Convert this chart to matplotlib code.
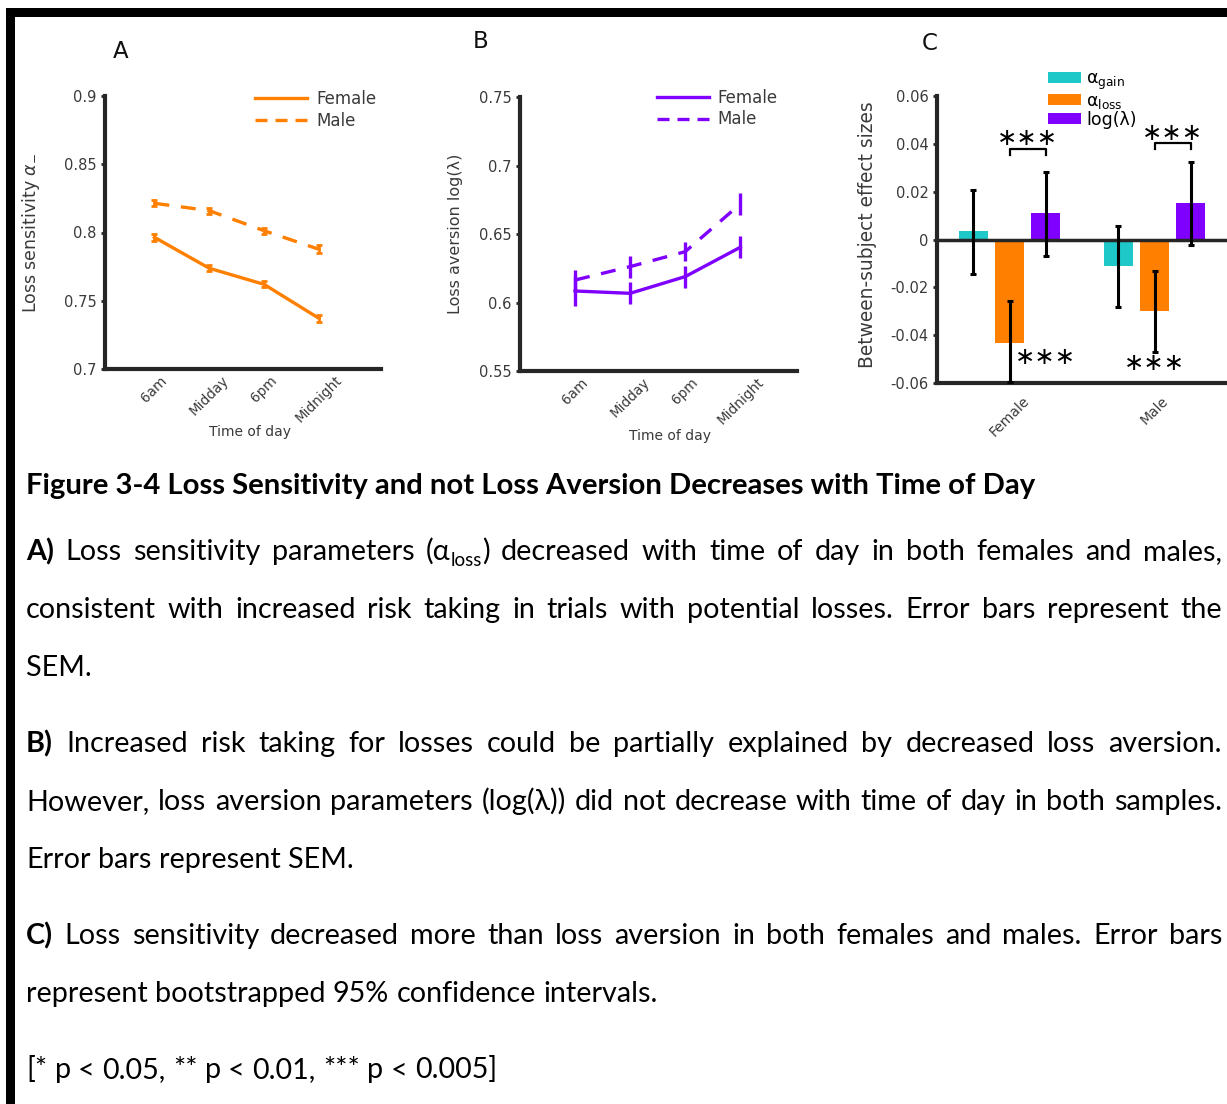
import re
import numpy as np
import matplotlib
matplotlib.use("Agg")
import matplotlib.pyplot as plt
from matplotlib.patches import Rectangle
from matplotlib.lines import Line2D

# ---- data -------------------------------------------------------------
times = ["6am", "Midday", "6pm", "Midnight"]

# A: loss sensitivity (alpha loss), mean and SEM
loss_sens_female = [0.7965, 0.7738, 0.7620, 0.7371]
loss_sens_female_sem = [0.0025, 0.0022, 0.0022, 0.0025]
loss_sens_male = [0.8214, 0.8160, 0.8013, 0.7877]
loss_sens_male_sem = [0.0022, 0.0022, 0.0022, 0.0030]

# B: loss aversion log(lambda), mean and SEM
loss_av_female = [0.6084, 0.6067, 0.6189, 0.6403]
loss_av_female_sem = [0.011, 0.008, 0.008, 0.008]
loss_av_male = [0.6164, 0.6262, 0.6371, 0.6719]
loss_av_male_sem = [0.007, 0.008, 0.007, 0.008]

# C: between-subject effect sizes with bootstrapped 95% CI (low, high)
groups = ["Female", "Male"]
effect_gain = [0.0035, -0.0112]
effect_gain_ci = [(-0.0146, 0.0209), (-0.0283, 0.0056)]
effect_loss = [-0.0432, -0.0300]
effect_loss_ci = [(-0.0597, -0.0258), (-0.0470, -0.0130)]
effect_lambda = [0.0109, 0.0153]
effect_lambda_ci = [(-0.0067, 0.0283), (-0.0021, 0.0324)]

a_ticks = [0.7, 0.75, 0.8, 0.85, 0.9]
a_ticklabels = ["0.7", "0.75", "0.8", "0.85", "0.9"]
b_ticks = [0.55, 0.6, 0.65, 0.7, 0.75]
b_ticklabels = ["0.55", "0.6", "0.65", "0.7", "0.75"]
c_ticks = [-0.06, -0.04, -0.02, 0, 0.02, 0.04, 0.06]
c_ticklabels = ["-0.06", "-0.04", "-0.02", "0", "0.02", "0.04", "0.06"]

title = "Figure 3-4 Loss Sensitivity and not Loss Aversion Decreases with Time of Day"
# (bold lead, text, justified); {...} marks a subscript
caption = [
    ("A)", "Loss sensitivity parameters (α{loss}) decreased with time of day in both females and males,", True),
    (None, "consistent with increased risk taking in trials with potential losses. Error bars represent the", True),
    (None, "SEM.", False),
    ("B)", "Increased risk taking for losses could be partially explained by decreased loss aversion.", True),
    (None, "However, loss aversion parameters (log(λ)) did not decrease with time of day in both samples.", True),
    (None, "Error bars represent SEM.", False),
    ("C)", "Loss sensitivity decreased more than loss aversion in both females and males. Error bars", True),
    (None, "represent bootstrapped 95% confidence intervals.", False),
    (None, "[* p < 0.05, ** p < 0.01, *** p < 0.005]", False),
]
caption_baselines = [560, 618, 676, 752, 810, 868, 944, 1002, 1078]

orange = "#ff8000"
purple = "#7f00ff"
cyan = "#1fc8c8"
spine_col = "#262626"
text_col = "#3a3a3a"

plt.rcParams["font.family"] = ["DejaVu Sans"]

W, H = 1227, 1104
fig = plt.figure(figsize=(W / 100, H / 100), dpi=100)


def fx(px):
    return px / W


def fy(py):
    return 1 - py / H


def axes_px(left, top, right, bottom):
    return fig.add_axes([fx(left), fy(bottom), (right - left) / W, (bottom - top) / H])


def style_axes(ax):
    for s in ["top", "right"]:
        ax.spines[s].set_visible(False)
    for s in ["left", "bottom"]:
        ax.spines[s].set_linewidth(3)
        ax.spines[s].set_color(spine_col)
    ax.tick_params(axis="y", direction="out", length=3, width=2, color=spine_col,
                   labelsize=10.5, labelcolor=text_col, pad=3)
    ax.tick_params(axis="x", length=0, labelcolor=text_col)
    ax.set_facecolor("none")


# page frame
fig.patches.append(Rectangle((fx(6), fy(17)), 1 - fx(6), 9 / H, transform=fig.transFigure,
                             color="black", lw=0))
fig.patches.append(Rectangle((fx(6), 0), 9 / W, fy(8), transform=fig.transFigure,
                             color="black", lw=0))

x = np.arange(1, len(times) + 1)
male_dash = (0, (4.5, 3.5))
legend_dash = (0, (3.6, 2.4))

# ---- A: loss sensitivity -------------------------------------------------
ax_a = axes_px(105, 96, 381, 369)
style_axes(ax_a)
ax_a.errorbar(x, loss_sens_female, yerr=loss_sens_female_sem, color=orange, lw=2.4,
              elinewidth=2, capsize=2.5, capthick=2)
ax_a.errorbar(x, loss_sens_male, yerr=loss_sens_male_sem, color=orange, lw=2.4,
              ls=male_dash, elinewidth=2, capsize=2.5, capthick=2)
ax_a.set_xlim(0.1, 5.13)
ax_a.set_ylim(0.7, 0.9)
ax_a.set_yticks(a_ticks, a_ticklabels)
ax_a.set_xticks(x, times, rotation=45, fontsize=9.8, color=text_col)
ax_a.tick_params(axis="x", pad=3)
ax_a.set_ylabel(r"Loss sensitivity $\alpha_{-}$", fontsize=12.5, color=text_col)
ax_a.yaxis.set_label_coords(-0.228, 0.5)
ax_a.set_xlabel("Time of day", fontsize=10, color=text_col)
ax_a.xaxis.set_label_coords(0.525, -0.205)
ax_a.legend(handles=[Line2D([], [], color=orange, lw=2.4),
                     Line2D([], [], color=orange, lw=2.4, ls=legend_dash)],
            labels=["Female", "Male"], loc="upper left",
            bbox_to_anchor=(fx(255), fy(90)), bbox_transform=fig.transFigure,
            frameon=False, fontsize=12, handlelength=3.1, handletextpad=0.6,
            labelspacing=0.25, borderpad=0, borderaxespad=0, labelcolor=text_col)
fig.text(fx(121), fy(52), "A", fontsize=16.5, ha="center", va="center", color="#111111")

# ---- B: loss aversion ------------------------------------------------------
ax_b = axes_px(520, 97, 797, 371)
style_axes(ax_b)
ax_b.errorbar(x, loss_av_female, yerr=loss_av_female_sem, color=purple, lw=2.4,
              elinewidth=2.4, capsize=0)
ax_b.errorbar(x, loss_av_male, yerr=loss_av_male_sem, color=purple, lw=2.4,
              ls=male_dash, elinewidth=2.4, capsize=0)
ax_b.set_xlim(0.0, 5.03)
ax_b.set_ylim(0.55, 0.75)
ax_b.set_yticks(b_ticks, b_ticklabels)
ax_b.set_xticks(x, times, rotation=45, fontsize=9.8, color=text_col)
ax_b.tick_params(axis="x", pad=3)
ax_b.set_ylabel("Loss aversion log(λ)", fontsize=11.5, color=text_col)
ax_b.yaxis.set_label_coords(-0.206, 0.5)
ax_b.set_xlabel("Time of day", fontsize=10, color=text_col)
ax_b.xaxis.set_label_coords(0.54, -0.21)
ax_b.legend(handles=[Line2D([], [], color=purple, lw=2.4),
                     Line2D([], [], color=purple, lw=2.4, ls=legend_dash)],
            labels=["Female", "Male"], loc="upper left",
            bbox_to_anchor=(fx(657), fy(89)), bbox_transform=fig.transFigure,
            frameon=False, fontsize=12, handlelength=3.1, handletextpad=0.5,
            labelspacing=0.2, borderpad=0, borderaxespad=0, labelcolor=text_col)
fig.text(fx(481), fy(42), "B", fontsize=16.5, ha="center", va="center", color="#111111")

# ---- C: effect sizes -------------------------------------------------------
ax_c = axes_px(937, 96, 1227, 383)
style_axes(ax_c)
pos = np.arange(1, len(groups) + 1)
offs, width = 0.25, 0.2


def ci_err(vals, ci):
    return np.array([[v - lo for v, (lo, hi) in zip(vals, ci)],
                     [hi - v for v, (lo, hi) in zip(vals, ci)]])


series = [
    (pos - offs, effect_gain, effect_gain_ci, cyan, "α$_{\\mathrm{gain}}$"),
    (pos, effect_loss, effect_loss_ci, orange, "α$_{\\mathrm{loss}}$"),
    (pos + offs, effect_lambda, effect_lambda_ci, purple, "log(λ)"),
]
bars = []
for xp, vals, ci, col, lab in series:
    bars.append(ax_c.bar(xp, vals, width, color=col, zorder=2, label=lab))
    ax_c.errorbar(xp, vals, yerr=ci_err(vals, ci), fmt="none", ecolor="black",
                  elinewidth=2.2, capsize=2.5, capthick=2.2, zorder=4)
ax_c.axhline(0, color=spine_col, lw=2.5, zorder=3)
ax_c.set_xlim(0.5, 2.5)
ax_c.set_ylim(-0.06, 0.06)
ax_c.set_yticks(c_ticks, c_ticklabels)
ax_c.set_xticks(pos, groups, rotation=45, fontsize=10, color=text_col)
ax_c.tick_params(axis="x", pad=8)
for lbl in ax_c.get_xticklabels():
    lbl.set_x(lbl.get_position()[0] + 0.04)
ax_c.set_ylabel("Between-subject effect sizes", fontsize=13.4, color=text_col)
ax_c.yaxis.set_label_coords(-0.207, 0.516)

# brackets between alpha loss and log(lambda)
for g, (yb, ys) in enumerate([(0.0378, 0.0424), (0.0404, 0.0446)]):
    x1, x2 = pos[g], pos[g] + offs
    ax_c.plot([x1, x1, x2, x2], [yb - 0.0025, yb, yb, yb - 0.0025], color="black",
              lw=1.6, zorder=5, clip_on=False)
    ax_c.text((x1 + x2) / 2, ys, "∗∗∗", ha="center", va="center", fontsize=17.5,
              color="black", clip_on=False)
ax_c.text(pos[0] + offs, -0.0491, "∗∗∗", ha="center", va="center", fontsize=17.5)
ax_c.text(pos[1], -0.0516, "∗∗∗", ha="center", va="center", fontsize=17.5)

ax_c.legend(handles=bars, loc="upper left", bbox_to_anchor=(fx(1048), fy(70)),
            bbox_transform=fig.transFigure, frameon=False, fontsize=12.5,
            handlelength=1.9, handleheight=0.6, handletextpad=0.3, labelspacing=0.0,
            borderpad=0, borderaxespad=0)
fig.text(fx(930), fy(43), "C", fontsize=16.5, ha="center", va="center", color="#111111")

# ---- caption ---------------------------------------------------------------
cap_font = ["Lato", "DejaVu Sans"]
X_LEFT, X_RIGHT = 26, 1222
renderer = fig.canvas.get_renderer()


def text_width(s, size, weight="normal"):
    t = fig.text(0, 0, s, fontsize=size, fontweight=weight, family=cap_font)
    w = t.get_window_extent(renderer=renderer).width
    t.remove()
    return w


def word_runs(word, weight):
    runs = []
    for part in re.split(r"(\{[^}]*\})", word):
        if not part:
            continue
        if part.startswith("{"):
            runs.append((part[1:-1], True, weight))
        else:
            runs.append((part, False, weight))
    return runs


def line_words(lead, body):
    words = [word_runs(lead, "bold")] if lead else []
    return words + [word_runs(w, "normal") for w in body.split()]


def run_size(run, size):
    return size * 0.65 if run[1] else size


def word_width(word, size):
    return sum(text_width(r[0], run_size(r, size), r[2]) for r in word)


def natural_width(words, size):
    sp = text_width("a a", size) - text_width("aa", size)
    return sum(word_width(w, size) for w in words) + sp * (len(words) - 1)


# size the caption so the widest justified line just fills the column
size = 20.0
widest = max(natural_width(line_words(lead, body), size)
             for lead, body, just in caption if just)
size *= (X_RIGHT - X_LEFT) * 0.985 / widest

for (lead, body, just), yb in zip(caption, caption_baselines):
    words = line_words(lead, body)
    widths = [word_width(w, size) for w in words]
    if just:
        gap = (X_RIGHT - X_LEFT - sum(widths)) / (len(words) - 1)
    else:
        gap = text_width("a a", size) - text_width("aa", size)
    xp = X_LEFT
    for word, ww in zip(words, widths):
        for run in word:
            rs = run_size(run, size)
            dy = 0.2 * size * 100 / 72 if run[1] else 0
            fig.text(fx(xp), fy(yb + dy), run[0], fontsize=rs, fontweight=run[2],
                     family=cap_font, va="baseline", ha="left", color="black")
            xp += text_width(run[0], rs, run[2])
        xp += gap

tsize = 20 * 1011 / text_width(title, 20, "bold")
fig.text(fx(X_LEFT), fy(494), title, fontsize=tsize, fontweight="bold", family=cap_font,
         va="baseline", ha="left", color="black")

fig.savefig("out.png", dpi=100, facecolor="white")
